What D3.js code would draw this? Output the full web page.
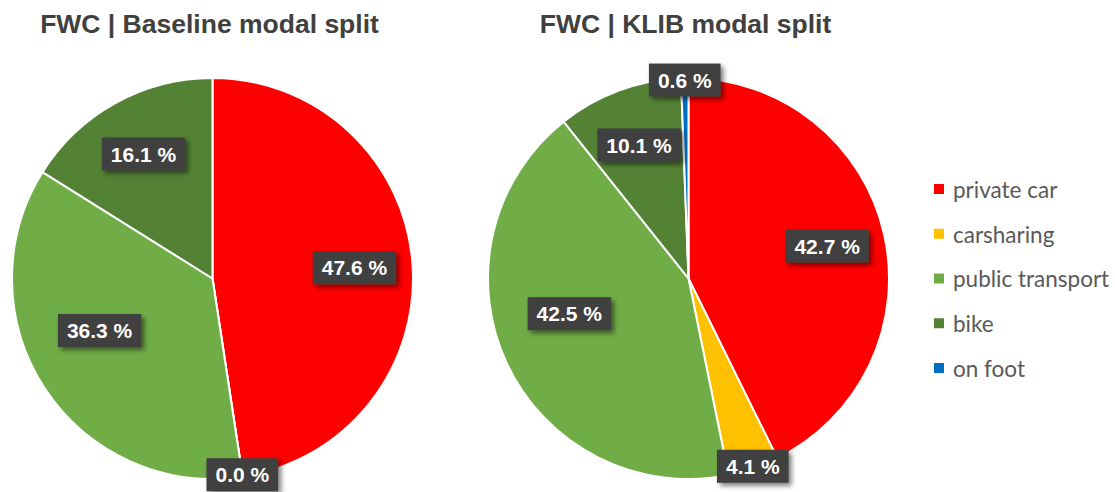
<!DOCTYPE html>
<html>
<head>
<meta charset="utf-8">
<script src="https://cdn.jsdelivr.net/npm/d3@7"></script>
<style>
  html, body { margin: 0; padding: 0; background: #fff; }
  svg { display: block; }
</style>
</head>
<body>
<svg id="chart" width="1115" height="492"></svg>
<script>
// ---- data ----
const categories = ["private car", "carsharing", "public transport", "bike", "on foot"];
const baselineValues = [47.6, 0.0, 36.3, 16.1, null];
const klibValues = [42.7, 4.1, 42.5, 10.1, 0.6];
const chartTitles = ["FWC | Baseline modal split", "FWC | KLIB modal split"];
const seriesColors = ["#FF0000", "#FFC000", "#70AD47", "#548235", "#0070C0"];

// ---- layout ----
const W = 1115, H = 492;
const svg = d3.select("#chart");
const radius = 200.5;
const pieCenterY = 278.5;
const centerX = d3.scalePoint().domain([0, 1]).range([212.5, 688.5]);
const color = d3.scaleOrdinal().domain(categories).range(seriesColors);

const defs = svg.append("defs");
const f = defs.append("filter").attr("id", "shadow")
  .attr("x", "-30%").attr("y", "-30%").attr("width", "160%").attr("height", "180%");
f.append("feDropShadow").attr("dx", 3).attr("dy", 3).attr("stdDeviation", 2.5)
  .attr("flood-color", "#000").attr("flood-opacity", 0.5);

const pie = d3.pie().sort(null).value(d => d.value).startAngle(0).endAngle(2 * Math.PI);
const arc = d3.arc().innerRadius(0).outerRadius(radius);

const fontFam = "'Liberation Sans', Arial, Helvetica, sans-serif";

function labelPos(d) {
  let a = (d.startAngle + d.endAngle) / 2;
  let k;
  if (d.data.value < 5) {
    k = 0.99;
  } else {
    k = 0.71;
    if (a > Math.PI && a < 1.5 * Math.PI) { k = 0.62; a += 0.15; }
  }
  return [Math.sin(a) * radius * k, -Math.cos(a) * radius * k];
}

[baselineValues, klibValues].forEach((vals, i) => {
  const data = categories.map((c, j) => ({ cat: c, value: vals[j] }))
    .filter(d => d.value !== null);
  const cx = centerX(i);

  svg.append("text")
    .attr("x", cx - 3).attr("y", 33)
    .attr("text-anchor", "middle")
    .attr("font-family", fontFam).attr("font-weight", "bold")
    .attr("font-size", "26.5px").attr("fill", "#404040")
    .text(chartTitles[i]);

  const g = svg.append("g").attr("transform", `translate(${cx},${pieCenterY})`);
  const arcs = pie(data);

  g.selectAll("path.slice").data(arcs).enter().append("path")
    .attr("class", "slice")
    .attr("d", arc)
    .attr("fill", d => color(d.data.cat))
    .attr("stroke", "#fff").attr("stroke-width", 2).attr("stroke-linejoin", "round");

  const lab = g.selectAll("g.lab").data(arcs).enter().append("g")
    .attr("class", "lab")
    .attr("transform", d => `translate(${labelPos(d)})`);

  const rects = lab.append("rect")
    .attr("fill", "#404040").attr("filter", "url(#shadow)");
  const texts = lab.append("text")
    .attr("text-anchor", "middle").attr("dy", "0.36em")
    .attr("font-family", fontFam).attr("font-weight", "bold")
    .attr("font-size", "21px").attr("fill", "#fff")
    .text(d => d3.format(".1f")(d.data.value) + " %");
  texts.each(function (d) { d.tw = this.getComputedTextLength(); });
  rects.attr("x", d => -(d.tw / 2 + 9)).attr("width", d => d.tw + 18)
    .attr("y", -16.5).attr("height", 33);
});

// ---- legend ----
const legendY = d3.scalePoint().domain(categories).range([189, 368]);
const leg = svg.append("g");
const items = leg.selectAll("g").data(categories).enter().append("g")
  .attr("transform", d => `translate(934,${legendY(d)})`);
items.append("rect").attr("x", 0).attr("y", -5).attr("width", 10).attr("height", 10)
  .attr("fill", d => color(d));
items.append("text").attr("x", 19).attr("y", 1).attr("dy", "0.35em")
  .attr("font-family", "Lato, 'Open Sans', sans-serif").attr("font-size", "22.5px")
  .attr("fill", "#595959")
  .text(d => d);
</script>
</body>
</html>
